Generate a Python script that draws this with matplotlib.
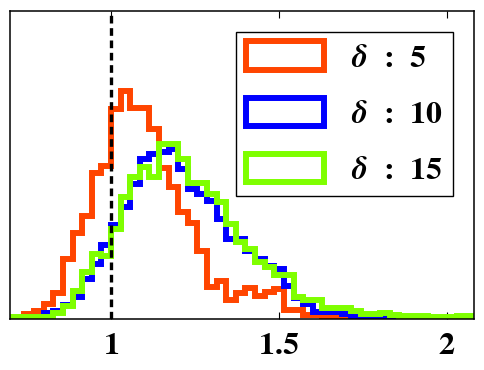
import numpy as np
import matplotlib
matplotlib.use("Agg")
import matplotlib.pyplot as plt
from matplotlib.font_manager import FontProperties

# histogram bins (equal width, one edge sits at 1.0)
bin_start = 1.0 - 11 * 0.0286
bin_width = 0.0286
n_bins = 49
edges = bin_start + bin_width * np.arange(n_bins + 1)
centers = 0.5 * (edges[:-1] + edges[1:])

# bin heights (arbitrary count units)
delta5 = [0, 1, 5, 8, 15, 26, 60, 86, 103, 146, 153, 210, 228, 211, 211, 190,
          151, 132, 107, 96, 68, 32, 38, 19, 26, 31, 23, 27, 30, 9, 9, 4,
          4, 3, 3, 2, 1, 0, 0, 0, 0, 0, 0, 0, 0, 0, 0, 0, 0]
delta10 = [0, 0, 1, 2, 6, 8, 14, 22, 40, 55, 74, 94, 112, 135, 160, 165,
           167, 170, 150, 130, 125, 118, 100, 80, 80, 68, 60, 53, 50, 33, 21, 15,
           7, 7, 7, 5, 2, 1, 1, 1, 0, 0, 0, 0, 0, 0, 0, 0, 0]
delta15 = [2, 2, 2, 2, 2, 6, 13, 28, 47, 65, 63, 90, 122, 142, 152, 142,
           175, 175, 160, 136, 136, 125, 117, 95, 77, 70, 57, 52, 44, 44, 22, 19,
           19, 11, 11, 11, 8, 5, 5, 6, 4, 3, 3, 3, 2, 2, 2, 3, 3]

labels = [r"$\mathbfit{\delta}\ \,\mathbf{:}\ \,\mathbf{5}$",
          r"$\mathbfit{\delta}\ \,\mathbf{:}\ \,\mathbf{10}$",
          r"$\mathbfit{\delta}\ \,\mathbf{:}\ \,\mathbf{15}$"]
colors = ["#FF4500", "#0000FF", "#7FFF00"]

fig = plt.figure(figsize=(4.84, 3.70), dpi=100)
ax = fig.add_axes([0.021, 0.138, 0.958, 0.832])

for vals, lab, col in zip([delta5, delta10, delta15], labels, colors):
    ax.hist(centers, bins=edges, weights=vals, histtype="step",
            color=col, lw=4.3, label=lab)

ax.axvline(1.0, color="k", ls=(0, (2.3, 1.4)), lw=2.4, zorder=5)

ax.set_xlim(0.7, 2.08)
ax.set_ylim(0, 308)
ax.set_yticks([])
ax.set_xticks([1, 1.5, 2])
ax.set_xticklabels([r"$\mathbf{1}$", r"$\mathbf{1.5}$", r"$\mathbf{2}$"])
for t in ax.get_xticklabels():
    t.set_math_fontfamily("stix")
    t.set_fontsize(23)
ax.tick_params(axis="x", direction="in", length=5, width=0.8, top=True, pad=8)
for s in ax.spines.values():
    s.set_linewidth(1.1)

leg = ax.legend(loc="upper right",
                prop=FontProperties(size=23, math_fontfamily="stix"),
                handlelength=2.45, handleheight=1.0, labelspacing=0.75,
                handletextpad=0.85, borderaxespad=0.65, borderpad=0.3,
                fancybox=False, edgecolor="k", framealpha=1)
leg.get_frame().set_linewidth(1.0)

fig.savefig("out.png", dpi=100)
